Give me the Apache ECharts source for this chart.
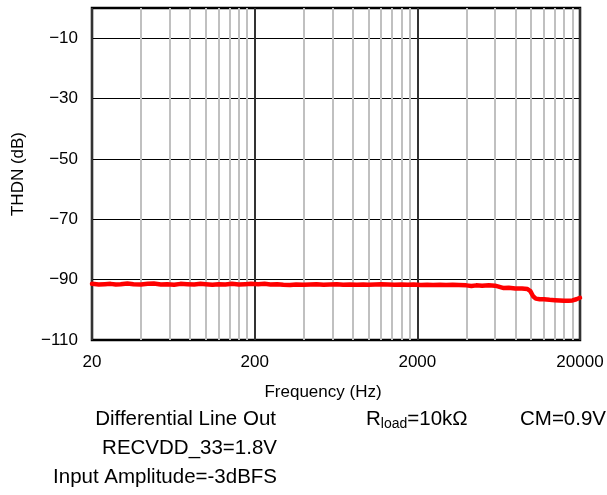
<!DOCTYPE html>
<html>
<head>
<meta charset="utf-8">
<script src="https://cdn.jsdelivr.net/npm/echarts@6/dist/echarts.min.js"></script>
<style>html,body{margin:0;padding:0;background:#fff}#c{width:607px;height:495px}</style>
</head>
<body>
<div id="c"></div>
<script>
var freqs = [20,22,24,26,28,30,33,36,40,44,48,53,58,64,70,77,85,93,100,110,120,132,145,160,175,190,210,230,250,275,300,330,360,400,440,480,530,580,640,700,770,850,930,1000,1100,1200,1320,1450,1600,1750,1900,2100,2300,2500,2750,3000,3300,3600,4000,4300,4600,5000,5500,6000,6400,6800,7300,8000,8800,9500,9900,10300,10700,11300,12000,13000,14000,15000,16000,17000,18000,19000,20000];
var thdn = [-91.4,-91.6,-91.5,-91.4,-91.6,-91.5,-91.3,-91.5,-91.6,-91.4,-91.3,-91.6,-91.5,-91.7,-91.4,-91.5,-91.6,-91.4,-91.5,-91.7,-91.5,-91.6,-91.4,-91.6,-91.5,-91.4,-91.5,-91.4,-91.6,-91.5,-91.7,-91.8,-91.6,-91.7,-91.6,-91.5,-91.7,-91.6,-91.5,-91.7,-91.6,-91.7,-91.6,-91.7,-91.6,-91.5,-91.6,-91.7,-91.6,-91.7,-91.6,-91.8,-91.7,-91.8,-91.7,-91.8,-91.7,-91.8,-91.9,-92.1,-91.9,-92.0,-91.9,-92.0,-92.4,-92.8,-92.7,-92.9,-92.9,-93.1,-93.8,-95.5,-96.3,-96.5,-96.5,-96.7,-96.8,-96.9,-97.0,-97.0,-96.9,-96.5,-96.0];
var xGridValues = [20,40,60,80,100,120,140,160,180,200,400,600,800,1000,1200,1400,1600,1800,2000,4000,6000,8000,10000,12000,14000,16000,18000,20000];
var xLabelValues = [20,200,2000,20000];
var yTickValues = [-110,-90,-70,-50,-30,-10];
var yName = 'THDN (dB)';
var xName = 'Frequency (Hz)';
var notesLeft = ['Differential Line Out','RECVDD_33=1.8V','Input Amplitude=-3dBFS'];

var FONT = 'Arial, "Liberation Sans", sans-serif';
var chart = echarts.init(document.getElementById('c'), null, {renderer:'canvas'});
var data = freqs.map(function(f,i){return [f, thdn[i]];});
chart.setOption({
  animation:false,
  backgroundColor:'#fff',
  grid:{left:92,right:27,top:8,bottom:155,show:true,borderColor:'#000',borderWidth:2.5,backgroundColor:'transparent'},
  xAxis:{type:'log',logBase:10,min:20,max:20000,
    axisLine:{show:false},
    axisTick:{show:false,customValues:xGridValues},
    axisLabel:{customValues:xLabelValues,margin:14,color:'#000',fontSize:17,fontFamily:FONT,
      formatter:function(v){return String(Math.round(v));}},
    splitLine:{show:true,lineStyle:{color:['#333','#c0c0c0','#c0c0c0','#c0c0c0','#c0c0c0','#c0c0c0','#c0c0c0','#c0c0c0','#c0c0c0'],width:2}}
  },
  yAxis:{type:'value',min:-110,max:0,
    axisLine:{show:false},
    axisTick:{show:false,customValues:yTickValues},
    axisLabel:{customValues:yTickValues,margin:14,color:'#000',fontSize:17,fontFamily:FONT,
      formatter:function(v){return String(Math.round(v)).replace('-','\u2212');}},
    splitLine:{show:true,lineStyle:{color:'#000',width:1}}
  },
  series:[{type:'line',data:data,symbol:'none',smooth:false,
    lineStyle:{color:'#ff0000',width:4.5,join:'round',cap:'round'},z:5}],
  graphic:[
    {type:'text',x:18,y:174,rotation:Math.PI/2,style:{text:yName,font:'17px '+FONT,fill:'#000',align:'center',verticalAlign:'middle'}},
    {type:'text',x:323,y:392,style:{text:xName,font:'17px '+FONT,fill:'#000',align:'center',verticalAlign:'middle'}},
    {type:'text',x:276,y:419,style:{text:notesLeft[0],font:'20.5px '+FONT,fill:'#000',align:'right',verticalAlign:'middle'}},
    {type:'text',x:277,y:448,style:{text:notesLeft[1],font:'20.5px '+FONT,fill:'#000',align:'right',verticalAlign:'middle'}},
    {type:'text',x:277,y:477,style:{text:notesLeft[2],font:'20.5px '+FONT,fill:'#000',align:'right',verticalAlign:'middle'}},
    {type:'text',x:366,y:419,style:{text:'{a|R}{b|load}{a|=10k\u03A9}',fill:'#000',align:'left',verticalAlign:'middle',
      rich:{a:{fontSize:20.5,fontFamily:FONT,fill:'#000'},b:{fontSize:14,fontFamily:FONT,fill:'#000',padding:[10,0,0,0]}}}},
    {type:'text',x:520,y:419,style:{text:'CM=0.9V',font:'20.5px '+FONT,fill:'#000',align:'left',verticalAlign:'middle'}}
  ]
});
</script>
</body>
</html>
